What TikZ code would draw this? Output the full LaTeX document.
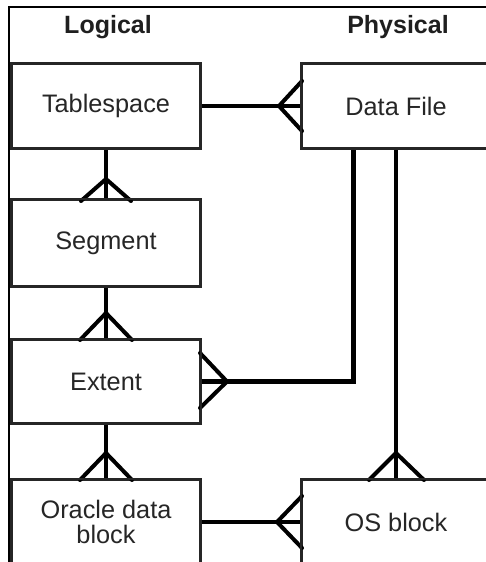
\documentclass[tikz,border=0pt]{standalone}
\usepackage{fontspec}
\setmainfont{Liberation Sans}
\begin{document}
\begin{tikzpicture}[x=1pt,y=-1pt,
  box/.style={draw=black!85, line width=2.4pt, minimum width=188pt, inner sep=0pt, align=center,
    font=\fontsize{25.3}{25.5}\selectfont, text=black!85},
  head/.style={font=\fontsize{25}{28}\selectfont\bfseries, text=black!88, anchor=base},
  conn/.style={line width=4.6pt, black},
  foot/.style={line width=4pt, black, line cap=round}]
\useasboundingbox (0,0) rectangle (486,562);
\clip (0,0) rectangle (486,562);
\fill[white] (0,0) rectangle (486,562);
% frame
\draw[line width=2.2pt, black] (9,600) -- (9,7) -- (500,7);
% headings
\node[head] (lg) at (108,33) {Logical};
\node[head] (ph) at (398,33) {Physical};
% boxes
\node[box, minimum height=84pt] (ts) at (106,106) {Tablespace};
\node[box, minimum height=84pt] (df) at (396,106) {Data File};
\node[box, minimum height=86pt] (sg) at (106,243) {Segment};
\node[box, minimum height=83pt] (ex) at (106,381.5) {Extent};
\node[box, minimum height=84pt] (ob) at (106,522) {Oracle data\\block};
\node[box, minimum height=84pt] (os) at (396,522) {OS block};
% connectors
\draw[conn] (ts.east) -- (df.west);
\draw[conn] (ts.south) -- (sg.north);
\draw[conn] (sg.south) -- (ex.north);
\draw[conn] (ex.south) -- (ob.north);
\draw[conn] (ob.east) -- (os.west);
\draw[conn] (df.south) -- (os.north);
\coordinate (k) at (353.5,381.5);
\draw[conn] (df.south -| k) -- (k) -- (ex.east);
% crow's feet
\coordinate (c1) at (279,106);
\draw[foot] (302,81) -- (c1) -- (302,131);
\coordinate (c2) at (106,179);
\draw[foot] (81,201) -- (c2) -- (131,201);
\coordinate (c3) at (106,313);
\draw[foot] (80,340) -- (c3) -- (132,340);
\coordinate (c4) at (106,453);
\draw[foot] (80,480) -- (c4) -- (132,480);
\coordinate (c5) at (396,453);
\draw[foot] (369,480) -- (c5) -- (424,480);
\coordinate (c6) at (227,381.5);
\draw[foot] (200,353) -- (c6) -- (200,408);
\coordinate (c7) at (277,522);
\draw[foot] (302,496) -- (c7) -- (302,548);
% redraw box borders on top
\foreach \n in {ts,df,sg,ex,ob,os} {\draw[draw=black!85, line width=2.4pt] (\n.north west) rectangle (\n.south east);}
\end{tikzpicture}
\end{document}
